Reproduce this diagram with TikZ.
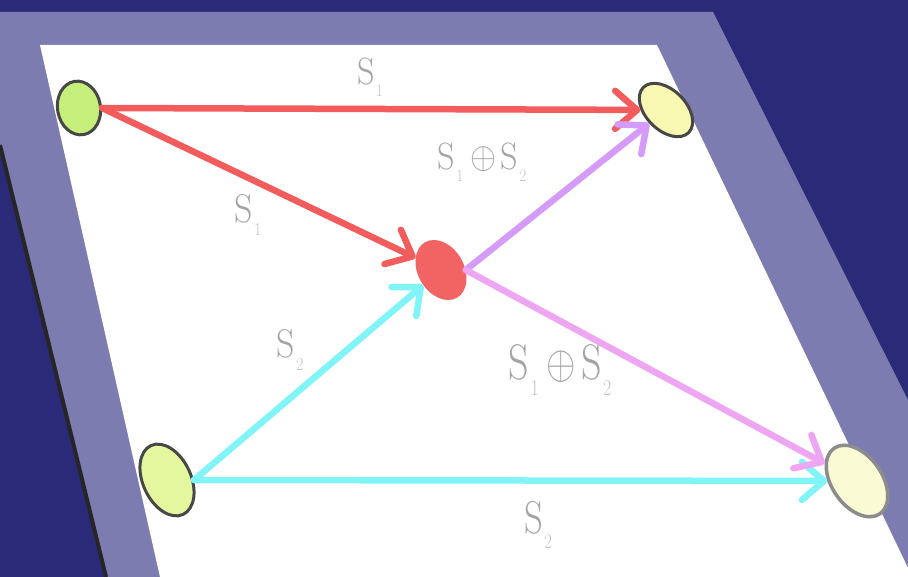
\documentclass[tikz,border=0pt]{standalone}
\usetikzlibrary{shapes.geometric,arrows.meta}
\definecolor{navy}{HTML}{2A2A78}
\definecolor{board}{HTML}{7C7CB0}
\definecolor{redline}{HTML}{F25C5C}
\definecolor{cyanline}{HTML}{80F4F6}
\definecolor{violetline}{HTML}{D49CF8}
\definecolor{pinkline}{HTML}{EFA6F2}
\definecolor{tlfill}{HTML}{C5EE7A}
\definecolor{trfill}{HTML}{F8F8B2}
\definecolor{blfill}{HTML}{E2F79E}
\definecolor{brfill}{HTML}{FAFAD4}
\definecolor{cfill}{HTML}{F26464}
\definecolor{lblgray}{HTML}{A4A4A4}
\definecolor{subgray}{HTML}{C4C4C4}
\newcommand\lsub[1]{\kern0.04em\raisebox{-0.32em}{\textcolor{subgray}{\scalebox{0.45}{#1}}}}
\newcommand\lplus[1]{\kern0.2em\raisebox{0.02em}{\scalebox{#1}{$\oplus$}}\kern0.12em}
\begin{document}
\begin{tikzpicture}[x=1pt,y=-1pt,
  dot/.style={ellipse, draw=black!72, line width=3pt, inner sep=0pt},
  softdot/.style={ellipse, draw=black!45, line width=3.5pt, inner sep=0pt},
  conn/.style={line width=6.5pt, line cap=round,
    -{Straight Barb[length=22pt,width=38pt,round]}},
  lbl/.style={text=lblgray, inner sep=0pt}]
\useasboundingbox (0,0) rectangle (908,577);
\fill[navy] (0,0) rectangle (908,577);
\fill[board] (0,12) -- (713,12) -- (908,400) -- (908,577) -- (105,577) -- (0,145) -- cycle;
\draw[black!85, line width=4pt] (0,145) -- (106,577);
\fill[white] (40,45) -- (657,45) -- (908,568) -- (908,577) -- (160,577) -- cycle;

% nodes
\node[dot, fill=tlfill, minimum width=43pt, minimum height=54pt, rotate=10] (tl) at (79,108) {};
\node[dot, fill=trfill, minimum width=64pt, minimum height=40pt, rotate=-45] (tr) at (666,110) {};
\node[dot, fill=blfill, minimum width=48pt, minimum height=76pt, rotate=25] (bl) at (167,480) {};
\node[softdot, fill=brfill, minimum width=50pt, minimum height=80pt, rotate=35] (br) at (857,481) {};
\node[ellipse, fill=cfill, inner sep=0pt, minimum width=46pt, minimum height=64pt, rotate=30] (c) at (441,270) {};

% connectors
\draw[conn, redline] (tl.-10) -- (tr);
\draw[conn, redline] (tl.-10) -- (c);
\draw[conn, cyanline] (bl.-25) -- (c);
\draw[conn, cyanline] (bl.-25) -- (br);
\draw[conn, violetline] (c.-30) -- (tr);
\draw[conn, pinkline] (c.-30) -- (br);

% labels
\node[lbl, font=\fontsize{38}{40}\selectfont, xscale=0.9] (l1) at (370,77) {S\lsub{1}};
\node[lbl, font=\fontsize{40}{42}\selectfont, xscale=0.9] (l2) at (248,215) {S\lsub{1}};
\node[lbl, font=\fontsize{40}{42}\selectfont, xscale=0.9] (l3) at (290,350) {S\lsub{2}};
\node[lbl, font=\fontsize{38}{40}\selectfont, xscale=0.9] (l4) at (482,162) {S\lsub{1}\lplus{1.5}S\lsub{2}};
\node[lbl, font=\fontsize{50}{52}\selectfont, xscale=0.8] (l5) at (560,370) {S\lsub{1}\lplus{1.9}S\lsub{2}};
\node[lbl, font=\fontsize{46}{48}\selectfont, xscale=0.8] (l6) at (538,525) {S\lsub{2}};
\end{tikzpicture}
\end{document}
